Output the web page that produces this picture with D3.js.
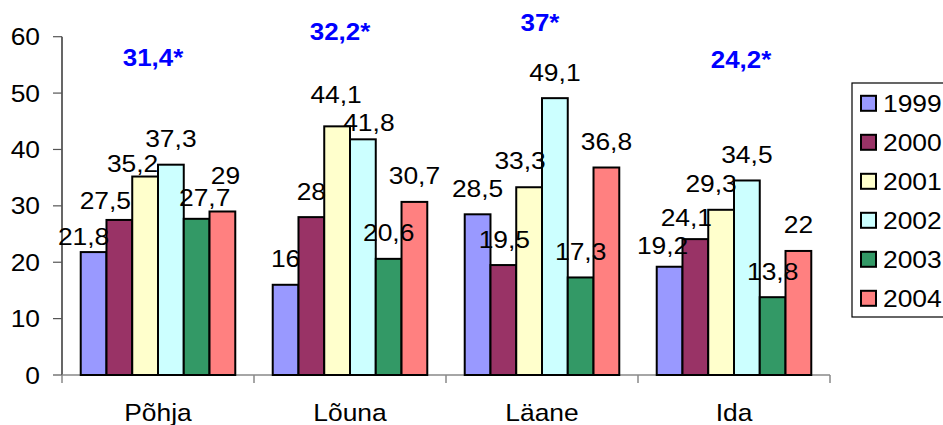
<!DOCTYPE html>
<html>
<head>
<meta charset="utf-8">
<script src="https://cdn.jsdelivr.net/npm/d3@7"></script>
<style>
  html, body { margin: 0; padding: 0; background: #fff; }
  svg { display: block; }
  text { font-family: "Liberation Sans", Arial, sans-serif; }
</style>
</head>
<body>
<svg id="chart" width="943" height="425"></svg>
<script>
// ---- data ----
const categories = ["Põhja", "Lõuna", "Läane", "Ida"];
const years = ["1999", "2000", "2001", "2002", "2003", "2004"];
const v1999 = [21.8, 16, 28.5, 19.2];
const v2000 = [27.5, 28, 19.5, 24.1];
const v2001 = [35.2, 44.1, 33.3, 29.3];
const v2002 = [37.3, 41.8, 49.1, 34.5];
const v2003 = [27.7, 20.6, 17.3, 13.8];
const v2004 = [29, 30.7, 36.8, 22];
const averageLabels = ["31,4*", "32,2*", "37*", "24,2*"];
const yTicks = [0, 10, 20, 30, 40, 50, 60];

// ---- layout / style (not data) ----
const colors = ["#9999FF", "#993366", "#FFFFCC", "#CCFFFF", "#339966", "#FF8080"];
// vertical placement of the blue annotations, in axis units, and horizontal nudges (px)
const averageLabelLevel = [54.8, 59.5, 61.0, 54.5];
const averageLabelDx = [-5, -10, -2, 7];
// manual label nudges [dx, dy] px per category, per year
const labelNudge = [
  [[-10, 10], [-14, 7], [-12.5, 13], [0, 0], [8, 5], [3, -10]],
  [[0, 0], [0, 0], [-1, -5.5], [6, 9], [0, 0], [0, 0]],
  [[0, 0], [1, 0], [-9, -1], [0, 0], [0, 0], [0, 0]],
  [[-7, 5], [-9, 4.5], [-10, 0], [0, 0], [0, 0], [0, 0]]
];

const seriesValues = [v1999, v2000, v2001, v2002, v2003, v2004];
const fmt = v => String(v).replace(".", ",");

const svg = d3.select("#chart");
const pLeft = 62, pRight = 830, pTop = 36.7, pBottom = 375;
const FS = 24, SX = 1.1;

const x0 = d3.scaleBand().domain(categories).range([pLeft, pRight]).padding(0);
const x1 = d3.scaleBand().domain(years).range([0, x0.bandwidth()]).paddingInner(0).paddingOuter(0.727);
const y = d3.scaleLinear().domain([0, 60]).range([pBottom, pTop]);

function stext(g, x, yy, str, anchor, opts = {}) {
  return g.append("text")
    .attr("transform", `translate(${x},${yy}) scale(${opts.sx || SX},1)`)
    .attr("text-anchor", anchor)
    .attr("font-size", opts.fs || FS)
    .attr("font-weight", opts.bold ? "bold" : "normal")
    .attr("fill", opts.fill || "#000")
    .text(str);
}

// ---- y axis ----
const yAxisG = svg.append("g");
yAxisG.append("line").attr("x1", pLeft).attr("x2", pLeft).attr("y1", y(60)).attr("y2", y(0))
  .attr("stroke", "#000").attr("stroke-width", 1.2);
yTicks.forEach(t => {
  yAxisG.append("line").attr("x1", pLeft - 9).attr("x2", pLeft).attr("y1", y(t)).attr("y2", y(t))
    .attr("stroke", "#555").attr("stroke-width", 1.2);
  stext(yAxisG, 40, y(t) + 8.5, String(t), "end");
});

// ---- x axis ----
const xAxisG = svg.append("g");
xAxisG.append("line").attr("x1", pLeft).attr("x2", pRight).attr("y1", pBottom).attr("y2", pBottom)
  .attr("stroke", "#888").attr("stroke-width", 1.5);
const bounds = categories.map(c => x0(c)).concat([x0(categories[categories.length - 1]) + x0.bandwidth()]);
bounds.forEach(b => {
  xAxisG.append("line").attr("x1", b).attr("x2", b).attr("y1", pBottom).attr("y2", pBottom + 8)
    .attr("stroke", "#888").attr("stroke-width", 1.5);
});
categories.forEach(c => {
  stext(xAxisG, x0(c) + x0.bandwidth() / 2, 421, c, "middle");
});

// ---- bars ----
const barsG = svg.append("g");
categories.forEach((c, ci) => {
  years.forEach((yr, si) => {
    const v = seriesValues[si][ci];
    barsG.append("rect")
      .attr("x", x0(c) + x1(yr))
      .attr("y", y(v))
      .attr("width", x1.bandwidth())
      .attr("height", y(0) - y(v))
      .attr("fill", colors[si])
      .attr("stroke", "#000")
      .attr("stroke-width", 2);
  });
});

// ---- value labels ----
const labelsG = svg.append("g");
categories.forEach((c, ci) => {
  years.forEach((yr, si) => {
    const v = seriesValues[si][ci];
    const n = labelNudge[ci][si];
    const cx = x0(c) + x1(yr) + x1.bandwidth() / 2 + n[0];
    const by = y(v) - 17.5 + n[1];
    stext(labelsG, cx, by, fmt(v), "middle");
  });
});

// ---- blue annotations ----
const annG = svg.append("g");
categories.forEach((c, ci) => {
  stext(annG, x0(c) + x0.bandwidth() / 2 + averageLabelDx[ci], y(averageLabelLevel[ci]),
    averageLabels[ci], "middle", { bold: true, fill: "#0000FF", sx: 1.08 });
});

// ---- legend ----
const legG = svg.append("g");
legG.append("rect").attr("x", 852).attr("y", 83).attr("width", 120).attr("height", 234)
  .attr("fill", "#fff").attr("stroke", "#000").attr("stroke-width", 1.2);
years.forEach((yr, si) => {
  const cy = 103.3 + si * 39;
  legG.append("rect").attr("x", 861).attr("y", cy - 7.5).attr("width", 15).attr("height", 15)
    .attr("fill", colors[si]).attr("stroke", "#000").attr("stroke-width", 2);
  stext(legG, 883, cy + 8.5, yr, "start");
});
</script>
</body>
</html>
